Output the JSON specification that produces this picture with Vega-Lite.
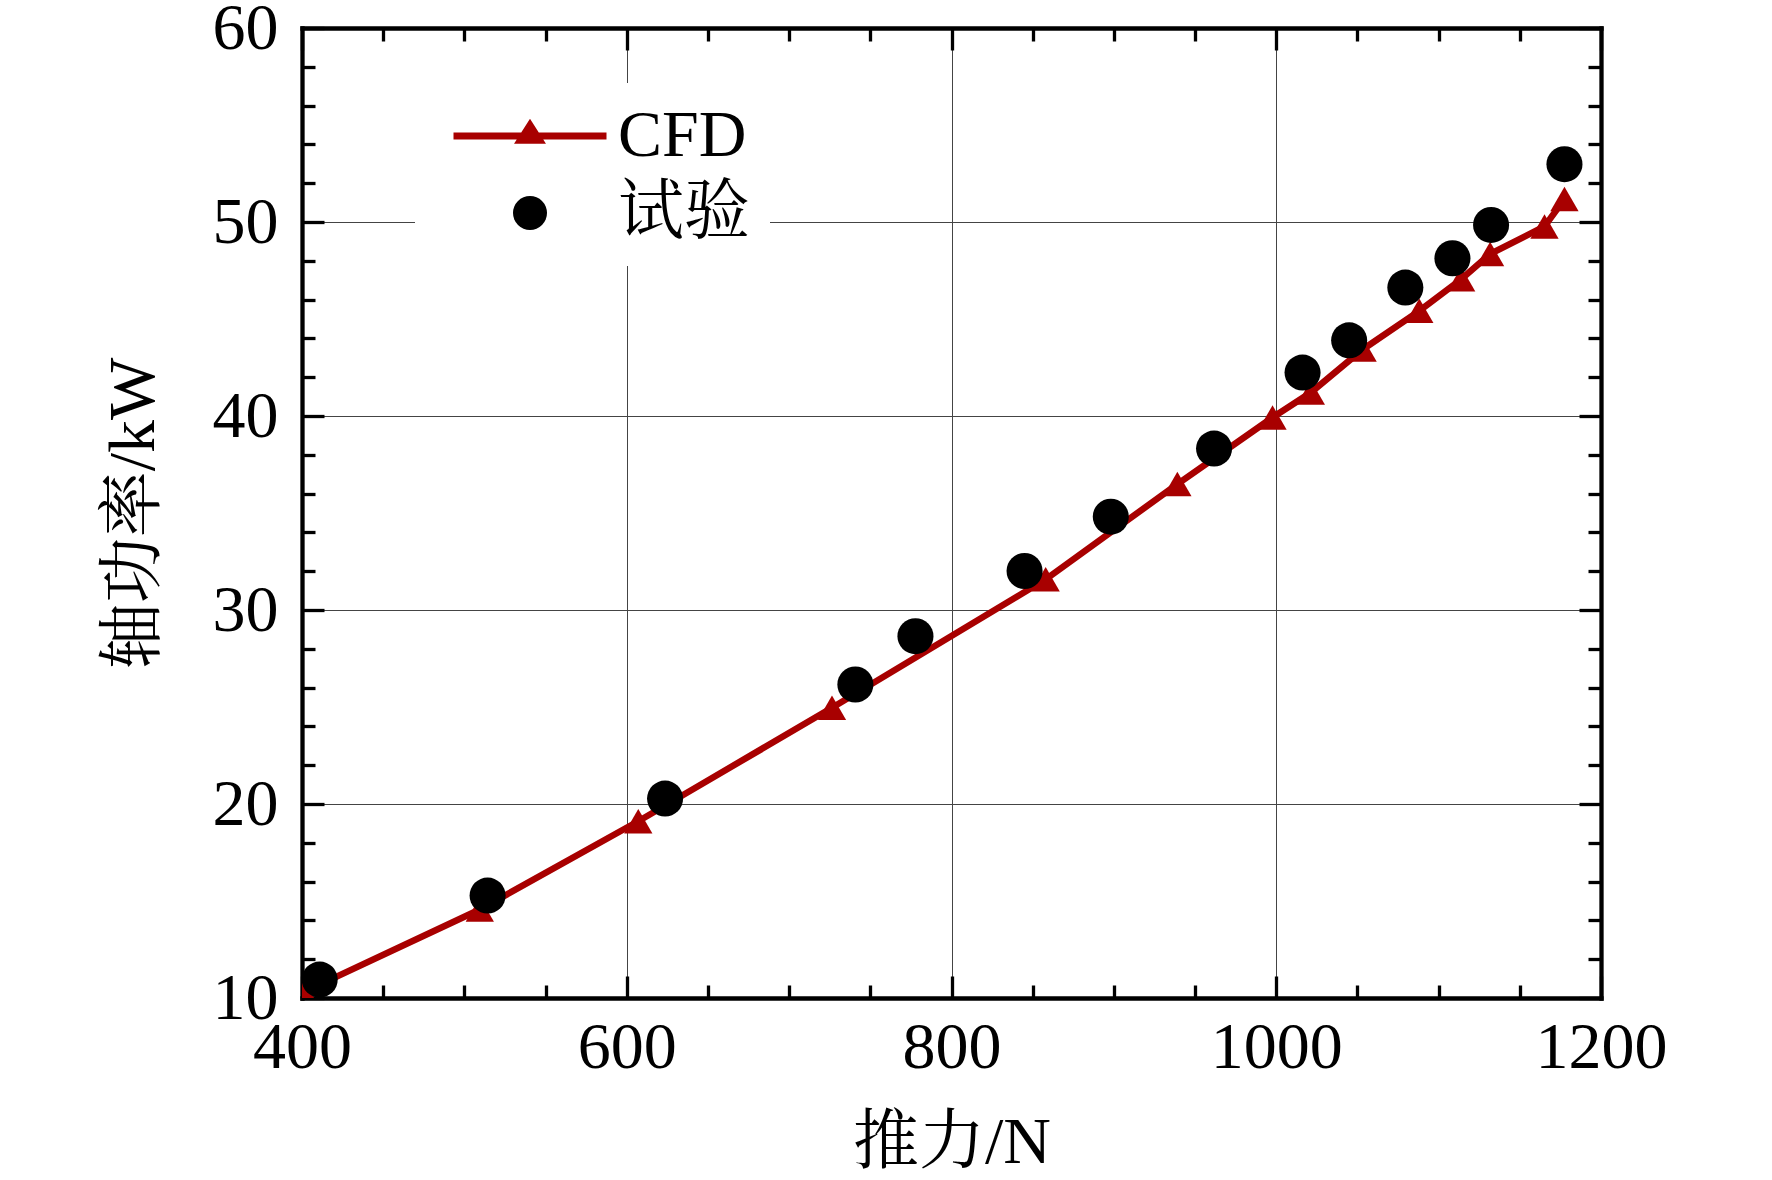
{
  "$schema": "https://vega.github.io/schema/vega-lite/v6.json",
  "width": 1299,
  "height": 970,
  "autosize": "none",
  "padding": {"left": 302, "top": 28, "right": 171, "bottom": 182},
  "background": "white",
  "config": {
    "view": {"stroke": null},
    "font": "Liberation Serif, Noto Serif CJK SC, Noto Sans CJK SC, serif",
    "axis": {"domainCap": "square"}
  },
  "data": {
    "values": [
      {"series": "CFD", "thrust": 401, "power": 10.3},
      {"series": "CFD", "thrust": 509.5, "power": 14.56},
      {"series": "CFD", "thrust": 607.1, "power": 19.11},
      {"series": "CFD", "thrust": 726.4, "power": 24.96},
      {"series": "CFD", "thrust": 858.0, "power": 31.58},
      {"series": "CFD", "thrust": 939.1, "power": 36.49},
      {"series": "CFD", "thrust": 997.7, "power": 39.92},
      {"series": "CFD", "thrust": 1021.3, "power": 41.21},
      {"series": "CFD", "thrust": 1053.2, "power": 43.43},
      {"series": "CFD", "thrust": 1088.1, "power": 45.42},
      {"series": "CFD", "thrust": 1113.9, "power": 47.05},
      {"series": "CFD", "thrust": 1131.7, "power": 48.35},
      {"series": "CFD", "thrust": 1165.2, "power": 49.77},
      {"series": "CFD", "thrust": 1177.5, "power": 51.18},
      {"series": "试验", "thrust": 410.9, "power": 10.95},
      {"series": "试验", "thrust": 514.3, "power": 15.28},
      {"series": "试验", "thrust": 623.6, "power": 20.28},
      {"series": "试验", "thrust": 740.8, "power": 26.16},
      {"series": "试验", "thrust": 777.8, "power": 28.65},
      {"series": "试验", "thrust": 845.0, "power": 32.01},
      {"series": "试验", "thrust": 898.1, "power": 34.81},
      {"series": "试验", "thrust": 961.7, "power": 38.32},
      {"series": "试验", "thrust": 1016.2, "power": 42.24},
      {"series": "试验", "thrust": 1044.9, "power": 43.90},
      {"series": "试验", "thrust": 1079.5, "power": 46.62},
      {"series": "试验", "thrust": 1108.5, "power": 48.13},
      {"series": "试验", "thrust": 1132.3, "power": 49.85},
      {"series": "试验", "thrust": 1177.5, "power": 52.98}
    ]
  },
  "layer": [
    {
      "transform": [{"filter": "datum.series === 'CFD'"}],
      "mark": {"type": "line", "color": "#a80000", "strokeWidth": 6.5, "clip": true},
      "encoding": {
        "x": {
          "field": "thrust", "type": "quantitative",
          "scale": {"domain": [400, 1200], "nice": false, "zero": false},
          "axis": {
            "orient": "bottom",
            "values": [400,450,500,550,600,650,700,750,800,850,900,950,1000,1050,1100,1150,1200],
            "format": "d",
            "labelExpr": "datum.value % 200 === 0 ? datum.label : ''",
            "tickSize": {"condition": {"test": "datum.value % 200 === 0", "value": -22}, "value": -13},
            "tickColor": "black", "tickWidth": 3.3,
            "grid": true,
            "gridColor": "#444", "gridWidth": 1,
            "gridOpacity": {"condition": {"test": "datum.value % 200 === 0 && datum.value > 400 && datum.value < 1200", "value": 1}, "value": 0},
            "domainColor": "black", "domainWidth": 4.3,
            "labelFontSize": 66, "labelColor": "black", "labelPadding": 39,
            "labelFlush": false, "labelOverlap": false, "labelBound": false,
            "title": "推力/N", "titleFontSize": 66, "titleFontWeight": "normal", "titleColor": "black", "titlePadding": 21
          }
        },
        "y": {
          "field": "power", "type": "quantitative",
          "scale": {"domain": [10, 60], "nice": false, "zero": false},
          "axis": {
            "orient": "left",
            "values": [10,12,14,16,18,20,22,24,26,28,30,32,34,36,38,40,42,44,46,48,50,52,54,56,58,60],
            "format": "d",
            "labelExpr": "datum.value % 10 === 0 ? datum.label : ''",
            "tickSize": {"condition": {"test": "datum.value % 10 === 0", "value": -22}, "value": -13},
            "tickColor": "black", "tickWidth": 3.3,
            "grid": true,
            "gridColor": "#444", "gridWidth": 1,
            "gridOpacity": {"condition": {"test": "datum.value % 10 === 0 && datum.value > 10 && datum.value < 60", "value": 1}, "value": 0},
            "domainColor": "black", "domainWidth": 4.3,
            "labelFontSize": 66, "labelColor": "black", "labelPadding": 46,
            "labelFlush": false, "labelOverlap": false, "labelBound": false,
            "title": "轴功率/kW", "titleFontSize": 66, "titleFontWeight": "normal", "titleColor": "black", "titlePadding": 45
          }
        }
      }
    },
    {
      "transform": [{"filter": "datum.series === 'CFD'"}],
      "mark": {"type": "point", "shape": "triangle-up", "filled": true, "color": "#a80000", "size": 800, "opacity": 1, "clip": true},
      "encoding": {
        "x": {
          "field": "thrust", "type": "quantitative",
          "axis": {
            "orient": "top",
            "values": [400,450,500,550,600,650,700,750,800,850,900,950,1000,1050,1100,1150,1200],
            "labels": false, "grid": false, "title": null,
            "tickSize": {"condition": {"test": "datum.value % 200 === 0", "value": -22}, "value": -13},
            "tickColor": "black", "tickWidth": 3.3,
            "domainColor": "black", "domainWidth": 4.3
          }
        },
        "y": {
          "field": "power", "type": "quantitative",
          "axis": {
            "orient": "right",
            "values": [10,12,14,16,18,20,22,24,26,28,30,32,34,36,38,40,42,44,46,48,50,52,54,56,58,60],
            "labels": false, "grid": false, "title": null,
            "tickSize": {"condition": {"test": "datum.value % 10 === 0", "value": -22}, "value": -13},
            "tickColor": "black", "tickWidth": 3.3,
            "domainColor": "black", "domainWidth": 4.3
          }
        }
      }
    },
    {
      "transform": [{"filter": "datum.series === '试验'"}],
      "mark": {"type": "point", "filled": true, "size": 1300, "opacity": 1},
      "encoding": {
        "x": {"field": "thrust", "type": "quantitative", "axis": null},
        "y": {"field": "power", "type": "quantitative", "axis": null},
        "color": {
          "field": "series", "type": "nominal",
          "scale": {"domain": ["CFD", "试验"], "range": ["#a80000", "black"]},
          "legend": {
            "orient": "none", "legendX": 113, "legendY": 55,
            "title": null, "fillColor": "white", "strokeColor": null, "padding": 20,
            "symbolSize": 1156, "symbolOffset": 62, "labelOffset": 55, "rowPadding": 11,
            "symbolStrokeWidth": 0,
            "labelFontSize": 66, "labelColor": "black", "labelLimit": 500
          }
        },
        "shape": {
          "field": "series", "type": "nominal",
          "scale": {"domain": ["CFD", "试验"], "range": ["M-4.5,-0.206H4.5V0.206H-4.5Z M-0.94,0.45L0,-1.02L0.94,0.45Z", "circle"]},
          "legend": {
            "orient": "none", "legendX": 113, "legendY": 55,
            "title": null, "fillColor": "white", "strokeColor": null, "padding": 20,
            "symbolSize": 1156, "symbolOffset": 62, "labelOffset": 55, "rowPadding": 11,
            "symbolStrokeWidth": 0,
            "labelFontSize": 66, "labelColor": "black", "labelLimit": 500
          }
        }
      }
    }
  ],
  "resolve": {"axis": {"x": "independent", "y": "independent"}}
}
